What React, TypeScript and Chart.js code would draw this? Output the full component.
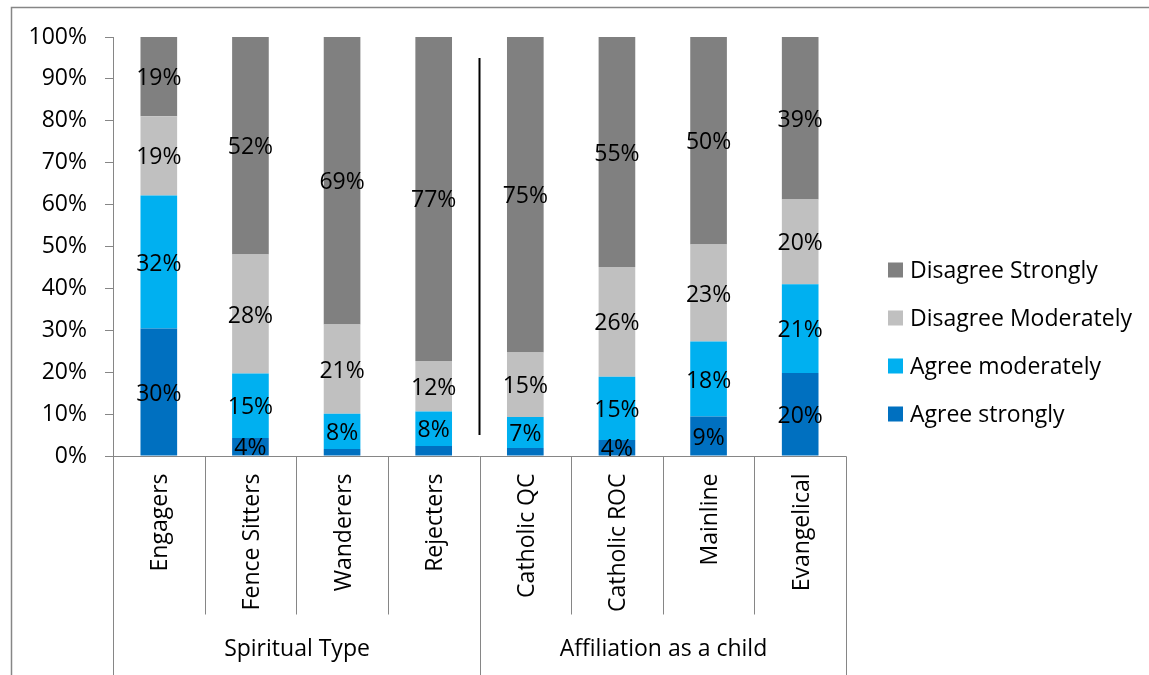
import React, { useEffect, useRef } from "react";
import { Chart, registerables } from "chart.js";

Chart.register(...registerables);

// Categories and their grouping on the second axis level
const categories = [
  "Engagers",
  "Fence Sitters",
  "Wanderers",
  "Rejecters",
  "Catholic QC",
  "Catholic ROC",
  "Mainline",
  "Evangelical",
];
const groupLabels = ["Spiritual Type", "Affiliation as a child"];
const groupStarts = [0, 4];
const groupEnds = [3, 7];

// Share of respondents (%) per answer, bottom of the stack first
const agreeStrongly = [30.4, 4.3, 1.7, 2.4, 1.9, 3.8, 9.4, 19.8];
const agreeModerately = [31.8, 15.4, 8.4, 8.2, 7.4, 15.1, 17.9, 21.2];
const disagreeModerately = [18.9, 28.4, 21.3, 12.1, 15.4, 26.2, 23.2, 20.2];
const disagreeStrongly = [18.9, 51.9, 68.6, 77.3, 75.3, 54.9, 49.5, 38.8];

const seriesNames = ["Agree strongly", "Agree moderately", "Disagree Moderately", "Disagree Strongly"];
const seriesColors = ["#0070C0", "#00B0F0", "#C0C0C0", "#808080"];

const yTicks = [0, 10, 20, 30, 40, 50, 60, 70, 80, 90, 100];

const FONT_FAMILY = "'Open Sans', Lato, sans-serif";
const FONT_SIZE = 23;
const FONT = `${FONT_SIZE}px ${FONT_FAMILY}`;
const AXIS_GRAY = "#868686";

const W = 1149;
const H = 675;

const decorPlugin = {
  id: "decor",
  beforeDraw(chart: any) {
    const ctx = chart.ctx;
    ctx.save();
    ctx.strokeStyle = AXIS_GRAY;
    ctx.lineWidth = 1.5;
    ctx.beginPath();
    ctx.moveTo(11.5, H);
    ctx.lineTo(11.5, 7.5);
    ctx.lineTo(W, 7.5);
    ctx.stroke();
    ctx.restore();
  },
  afterDatasetsDraw(chart: any) {
    const ctx = chart.ctx;
    ctx.save();
    ctx.font = FONT;
    ctx.fillStyle = "#000";
    ctx.textAlign = "center";
    ctx.textBaseline = "middle";
    chart.data.datasets.forEach((ds: any, di: number) => {
      const meta = chart.getDatasetMeta(di);
      meta.data.forEach((bar: any, i: number) => {
        const v = ds.data[i];
        if (v < 3) return;
        const cy = (bar.y + bar.base) / 2;
        ctx.fillText(`${Math.round(v)}%`, bar.x, cy + 2);
      });
    });
    ctx.restore();
  },
  afterDraw(chart: any) {
    const ctx = chart.ctx;
    const xs = chart.scales.x;
    const ys = chart.scales.y;
    const area = chart.chartArea;
    const n = categories.length;
    const step = (area.right - area.left) / n;
    const boundary = (k: number) => Math.round(area.left + k * step) + 0.5;
    const axisY = Math.round(area.bottom) + 0.5;

    ctx.save();
    ctx.strokeStyle = AXIS_GRAY;
    ctx.lineWidth = 1;

    // category axis line
    ctx.beginPath();
    ctx.moveTo(area.left, axisY);
    ctx.lineTo(boundary(n), axisY);
    ctx.stroke();

    // dividers between categories; group edges run to the bottom
    const groupEdges = new Set<number>([0, n]);
    groupStarts.forEach((s) => groupEdges.add(s));
    for (let k = 0; k <= n; k++) {
      const x = boundary(k);
      ctx.beginPath();
      ctx.moveTo(x, axisY);
      ctx.lineTo(x, groupEdges.has(k) ? H : axisY + 158);
      ctx.stroke();
    }

    // rotated category names
    ctx.fillStyle = "#000";
    ctx.font = FONT;
    categories.forEach((c, i) => {
      const cx = xs.getPixelForValue(i);
      ctx.save();
      ctx.translate(cx + 2, axisY + 17);
      ctx.rotate(-Math.PI / 2);
      ctx.textAlign = "right";
      ctx.textBaseline = "middle";
      ctx.fillText(c, 0, 0);
      ctx.restore();
    });

    // group names
    ctx.textAlign = "center";
    ctx.textBaseline = "middle";
    groupLabels.forEach((g, gi) => {
      const x0 = boundary(groupStarts[gi]);
      const x1 = boundary(groupEnds[gi] + 1);
      ctx.fillText(g, (x0 + x1) / 2, 649);
    });

    // separator between the two groups
    const sepX = (xs.getPixelForValue(3) + xs.getPixelForValue(4)) / 2;
    ctx.strokeStyle = "#000";
    ctx.lineWidth = 2;
    ctx.beginPath();
    ctx.moveTo(sepX, ys.getPixelForValue(95));
    ctx.lineTo(sepX, ys.getPixelForValue(5));
    ctx.stroke();

    // legend, top series first
    const legendX = 888;
    const legendTop = 270;
    const legendGap = 48;
    for (let j = 0; j < seriesNames.length; j++) {
      const si = seriesNames.length - 1 - j;
      const cy = legendTop + j * legendGap;
      ctx.fillStyle = seriesColors[si];
      ctx.fillRect(legendX, cy - 7.5, 15, 15);
      ctx.fillStyle = "#000";
      ctx.textAlign = "left";
      ctx.textBaseline = "middle";
      ctx.fillText(seriesNames[si], legendX + 22, cy + 1);
    }
    ctx.restore();
  },
};

export default function App() {
  const canvasRef = useRef<HTMLCanvasElement | null>(null);

  useEffect(() => {
    const canvas = canvasRef.current;
    if (!canvas) return;
    const seriesData = [agreeStrongly, agreeModerately, disagreeModerately, disagreeStrongly];
    const chart = new Chart(canvas, {
      type: "bar",
      data: {
        labels: categories,
        datasets: seriesNames.map((name, i) => ({
          label: name,
          data: seriesData[i],
          backgroundColor: seriesColors[i],
          borderWidth: 0,
          barPercentage: 0.4,
          categoryPercentage: 1,
        })),
      },
      options: {
        animation: false,
        responsive: false,
        devicePixelRatio: 1,
        layout: { padding: { left: 0, top: 37, right: W - 846, bottom: 0 } },
        plugins: {
          legend: { display: false },
          tooltip: { enabled: false },
          title: { display: false },
        },
        scales: {
          x: {
            stacked: true,
            ticks: { display: false },
            grid: { display: false },
            border: { display: false },
            afterFit: (scale: any) => {
              scale.height = H - 456;
            },
          },
          y: {
            stacked: true,
            min: 0,
            max: 100,
            afterBuildTicks: (scale: any) => {
              scale.ticks = yTicks.map((v) => ({ value: v }));
            },
            ticks: {
              padding: 18,
              color: "#000",
              font: { family: FONT_FAMILY, size: FONT_SIZE },
              callback: (v: any) => `${v}%`,
            },
            grid: {
              drawOnChartArea: false,
              drawTicks: true,
              tickLength: 8,
              color: AXIS_GRAY,
            },
            border: { display: true, color: AXIS_GRAY, width: 1 },
            afterFit: (scale: any) => {
              scale.width = 113;
            },
          },
        },
      },
      plugins: [decorPlugin],
    });
    return () => chart.destroy();
  }, []);

  return (
    <div style={{ position: "absolute", left: 0, top: 0, width: W, height: H, background: "#fff" }}>
      <canvas ref={canvasRef} width={W} height={H} style={{ display: "block", width: W, height: H }} />
    </div>
  );
}
